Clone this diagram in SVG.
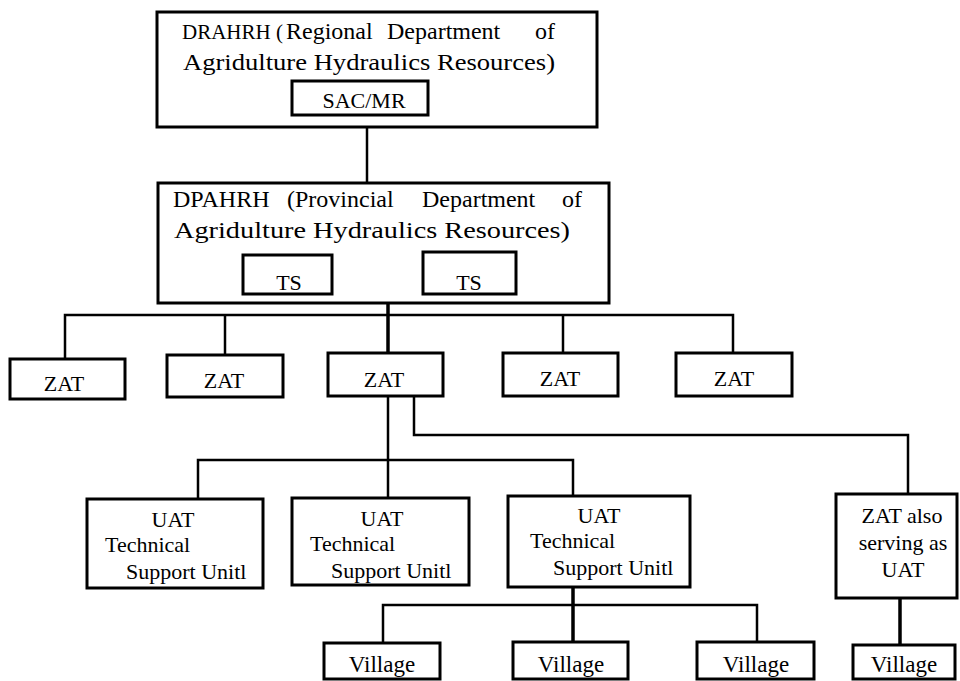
<svg xmlns="http://www.w3.org/2000/svg" width="960" height="681" viewBox="0 0 960 681" font-family="'Liberation Serif', 'DejaVu Serif', serif">
<style>
.box{fill:#fff;stroke:#000;stroke-width:3}
.ln{fill:none;stroke:#000;stroke-width:2.5}
.bold{fill:none;stroke:#000;stroke-width:3.5}
text{font-family:'Liberation Serif','DejaVu Serif',serif;fill:#000}
.big{font-size:24px}
.t{font-size:22px}
.c{text-anchor:middle}
.v{font-size:23px;text-anchor:middle}
</style>
<rect width="960" height="681" fill="#fff"/>
<g id="connectors">
<path class="ln" d="M367,127 V183"/>
<path class="bold" d="M388,303 V315"/>
<path class="ln" d="M65,359 V315 H733 V353"/>
<path class="ln" d="M225,315 V355"/>
<path class="bold" d="M388,315 V353"/>
<path class="ln" d="M563,315 V353"/>
<path class="ln" d="M388,396 V460"/>
<path class="ln" d="M198,499 V460 H573 V496"/>
<path class="ln" d="M388,460 V498"/>
<path class="ln" d="M414,396 V435 H908 V494"/>
<path class="bold" d="M573,587 V605 V642"/>
<path class="ln" d="M383,643 V605 H757 V642"/>
<path class="bold" d="M900,598 V645"/>
</g>
<g id="drahrh">
<rect class="box" x="157" y="12" width="440" height="115"/>
<text class="big" y="39"><tspan x="182" font-size="21">DRAHRH (</tspan><tspan x="286">Regional</tspan><tspan x="387">Department</tspan><tspan x="535">of</tspan></text>
<text class="big" x="183" y="70" textLength="372" lengthAdjust="spacingAndGlyphs">Agridulture Hydraulics Resources)</text>
</g>
<g id="sacmr">
<rect class="box" x="292" y="81" width="136" height="34"/>
<text class="t c" x="364" y="108">SAC/MR</text>
</g>
<g id="dpahrh">
<rect class="box" x="158" y="183" width="451" height="120"/>
<text class="big" y="207"><tspan x="173">DPAHRH</tspan><tspan x="287">(Provincial</tspan><tspan x="422">Department</tspan><tspan x="562">of</tspan></text>
<text class="big" x="174" y="238" textLength="396" lengthAdjust="spacingAndGlyphs">Agridulture Hydraulics Resources)</text>
</g>
<g id="ts1">
<rect class="box" x="243" y="255" width="89" height="39"/>
<text class="t c" x="289" y="290" font-size="23">TS</text>
</g>
<g id="ts2">
<rect class="box" x="423" y="252" width="93" height="42"/>
<text class="t c" x="469" y="290" font-size="23">TS</text>
</g>
<g id="zat1">
<rect class="box" x="10" y="359" width="115" height="40"/>
<text class="t c" x="64" y="391">ZAT</text>
</g>
<g id="zat2">
<rect class="box" x="167" y="355" width="116" height="42"/>
<text class="t c" x="224" y="388">ZAT</text>
</g>
<g id="zat3">
<rect class="box" x="328" y="353" width="115" height="43"/>
<text class="t c" x="384" y="387">ZAT</text>
</g>
<g id="zat4">
<rect class="box" x="503" y="353" width="115" height="43"/>
<text class="t c" x="560" y="386">ZAT</text>
</g>
<g id="zat5">
<rect class="box" x="676" y="353" width="116" height="43"/>
<text class="t c" x="734" y="386">ZAT</text>
</g>
<g id="uat1">
<rect class="box" x="87" y="499" width="176" height="89"/>
<text class="t c" x="173" y="527">UAT</text>
<text class="t" x="105" y="552">Technical</text>
<text class="t" x="126" y="579">Support Unitl</text>
</g>
<g id="uat2">
<rect class="box" x="292" y="498" width="177" height="87"/>
<text class="t c" x="382" y="526">UAT</text>
<text class="t" x="310" y="551">Technical</text>
<text class="t" x="331" y="578">Support Unitl</text>
</g>
<g id="uat3">
<rect class="box" x="508" y="496" width="182" height="91"/>
<text class="t c" x="599" y="523">UAT</text>
<text class="t" x="530" y="548">Technical</text>
<text class="t" x="553" y="575">Support Unitl</text>
</g>
<g id="zat-uat">
<rect class="box" x="836" y="494" width="121" height="104"/>
<text class="t c" x="902" y="523" font-size="21">ZAT also</text>
<text class="t c" x="903" y="550" font-size="21">serving as</text>
<text class="t c" x="903" y="577" font-size="21">UAT</text>
</g>
<g id="village1">
<rect class="box" x="324" y="643" width="116" height="36"/>
<text class="v" x="382" y="672">Village</text>
</g>
<g id="village2">
<rect class="box" x="513" y="642" width="115" height="37"/>
<text class="v" x="571" y="672">Village</text>
</g>
<g id="village3">
<rect class="box" x="697" y="642" width="117" height="37"/>
<text class="v" x="756" y="672">Village</text>
</g>
<g id="village4">
<rect class="box" x="853" y="645" width="102" height="34"/>
<text class="v" x="904" y="672">Village</text>
</g>
</svg>
